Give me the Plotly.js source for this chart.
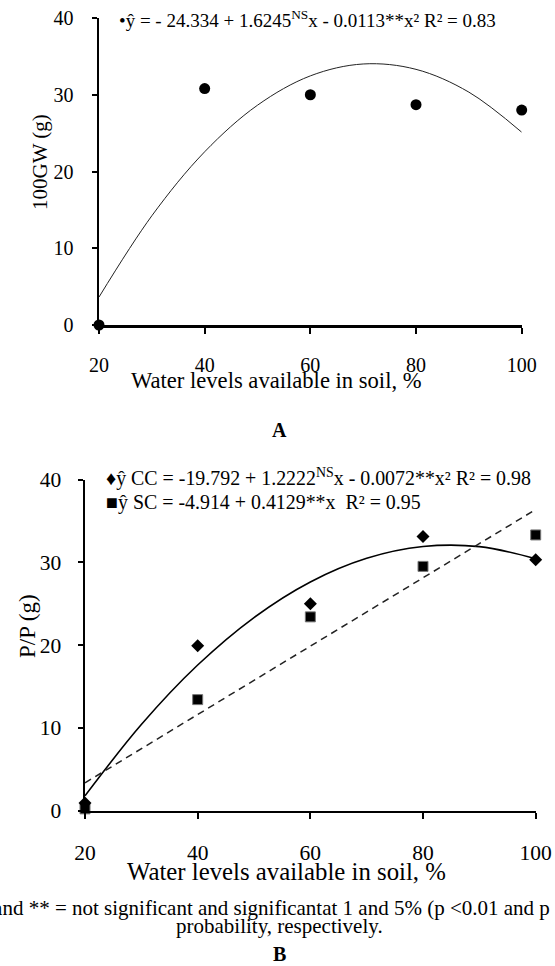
<!DOCTYPE html>
<html>
<head>
<meta charset="utf-8">
<script src="https://cdn.plot.ly/plotly-3.0.1.min.js"></script>
<style>
html,body{margin:0;padding:0;background:#fff;}
#chart{width:555px;height:966px;}
</style>
</head>
<body>
<div id="chart"></div>
<script>
// ---- data ----
const waterLevels = [20, 40, 60, 80, 100];
const gw100 = [0, 30.8, 30.0, 28.7, 28.0];
const fitLevels = [20, 30, 40, 50, 60, 70, 80, 90, 100];
const gw100Fit = [3.64, 14.23, 22.57, 28.64, 32.46, 34.01, 33.31, 30.34, 25.12];
const ppCC = [0.9, 19.9, 25.0, 33.1, 30.3];
const ppSC = [0.2, 13.4, 23.4, 29.5, 33.3];
const ppCCFit = [1.77, 10.39, 17.58, 23.32, 27.62, 30.48, 31.90, 31.89, 30.43];
const scFitLevels = [20, 100];
const ppSCFit = [3.34, 36.38];
const xTicks = [20, 40, 60, 80, 100];
const yTicks = [0, 10, 20, 30, 40];

const eqA = "•ŷ = - 24.334 + 1.6245<sup>NS</sup>x - 0.0113**x² R² = 0.83";
const eqCC = "♦ŷ CC = -19.792 + 1.2222<sup>NS</sup>x - 0.0072**x² R² = 0.98";
const eqSC = "■ŷ SC = -4.914 + 0.4129**x  R² = 0.95";
const xTitle = "Water levels available in soil, %";
const yTitleA = "100GW (g)";
const yTitleB = "P/P (g)";
const caption1 = "NS and ** = not significant and significantat 1 and 5% (p <0.01 and p <0.05)";
const caption2 = "probability, respectively.";

// ---- layout helpers ----
const W = 555, H = 966;
const px = v => v / W;
const py = v => 1 - v / H;
const FONT = "Liberation Serif, Times New Roman, serif";

const traces = [
  {x: fitLevels, y: gw100Fit, mode: 'lines', line: {color: '#222', width: 1, shape: 'spline'},
   xaxis: 'x', yaxis: 'y', showlegend: false, hoverinfo: 'skip'},
  {x: waterLevels, y: gw100, mode: 'markers', marker: {symbol: 'circle', size: 11, color: '#000'},
   xaxis: 'x', yaxis: 'y', showlegend: false, cliponaxis: false, name: '100GW'},
  {x: fitLevels, y: ppCCFit, mode: 'lines', line: {color: '#000', width: 1.6, shape: 'spline'},
   xaxis: 'x2', yaxis: 'y2', showlegend: false, hoverinfo: 'skip'},
  {x: scFitLevels, y: ppSCFit, mode: 'lines', line: {color: '#222', width: 1.5, dash: '7px,5px'},
   xaxis: 'x2', yaxis: 'y2', showlegend: false, hoverinfo: 'skip'},
  {x: waterLevels, y: ppSC, mode: 'markers', marker: {symbol: 'square', size: 10, color: '#000', line: {color: '#777', width: 1}},
   xaxis: 'x2', yaxis: 'y2', showlegend: false, cliponaxis: false, name: 'SC'},
  {x: waterLevels, y: ppCC, mode: 'markers', marker: {symbol: 'diamond', size: 10, color: '#000'},
   xaxis: 'x2', yaxis: 'y2', showlegend: false, cliponaxis: false, name: 'CC'}
];

function xAxis(dom, anchor, fs, stand) {
  return {domain: dom, anchor: anchor, range: [20, 100], tickvals: xTicks, ticktext: xTicks.map(String),
    showline: true, linecolor: '#000', linewidth: 2.5, ticks: 'outside', ticklen: 6, tickwidth: 2, tickcolor: '#000',
    showgrid: false, zeroline: false, ticklabelstandoff: stand, automargin: false,
    tickfont: {family: FONT, size: fs, color: '#000'}};
}
function yAxis(dom, anchor, fs, stand) {
  return {domain: dom, anchor: anchor, range: [0, 40], tickvals: yTicks, ticktext: yTicks.map(String),
    showline: true, linecolor: '#000', linewidth: 2.5, ticks: 'outside', ticklen: 5, tickwidth: 2, tickcolor: '#000',
    showgrid: false, zeroline: false, ticklabelstandoff: stand, automargin: false,
    tickfont: {family: FONT, size: fs, color: '#000'}};
}
function note(x, y, text, size, opts) {
  return Object.assign({xref: 'paper', yref: 'paper', x: px(x), y: py(y), xanchor: 'center', yanchor: 'middle',
    showarrow: false, text: text, font: {family: FONT, size: size, color: '#000'}}, opts || {});
}

const layout = {
  width: W, height: H,
  margin: {l: 0, r: 0, t: 0, b: 0},
  paper_bgcolor: '#fff', plot_bgcolor: '#fff',
  showlegend: false,
  font: {family: FONT, color: '#000'},
  xaxis: xAxis([px(99), px(521.7)], 'y', 20, 14),
  yaxis: yAxis([py(325), py(18)], 'x', 20, 14),
  xaxis2: xAxis([px(85), px(535.7)], 'y2', 21.5, 15),
  yaxis2: yAxis([py(810.5), py(479.5)], 'x2', 21.5, 12),
  annotations: [
    note(117, 19, eqA, 19, {xanchor: 'left'}),
    note(104, 477, eqCC, 19.9, {xanchor: 'left'}),
    note(104, 503, eqSC, 19.9, {xanchor: 'left'}),
    note(276, 380, xTitle, 22.6),
    note(40, 162, yTitleA, 21, {textangle: -90}),
    note(279, 430, '<b>A</b>', 20),
    note(286, 871, xTitle, 24.8),
    note(27, 626, yTitleB, 23, {textangle: -90}),
    note(-41, 908, caption1, 21, {xanchor: 'left'}),
    note(279, 926, caption2, 21),
    note(279, 954, '<b>B</b>', 20)
  ]
};

Plotly.newPlot('chart', traces, layout, {staticPlot: true, displayModeBar: false});
</script>
</body>
</html>
